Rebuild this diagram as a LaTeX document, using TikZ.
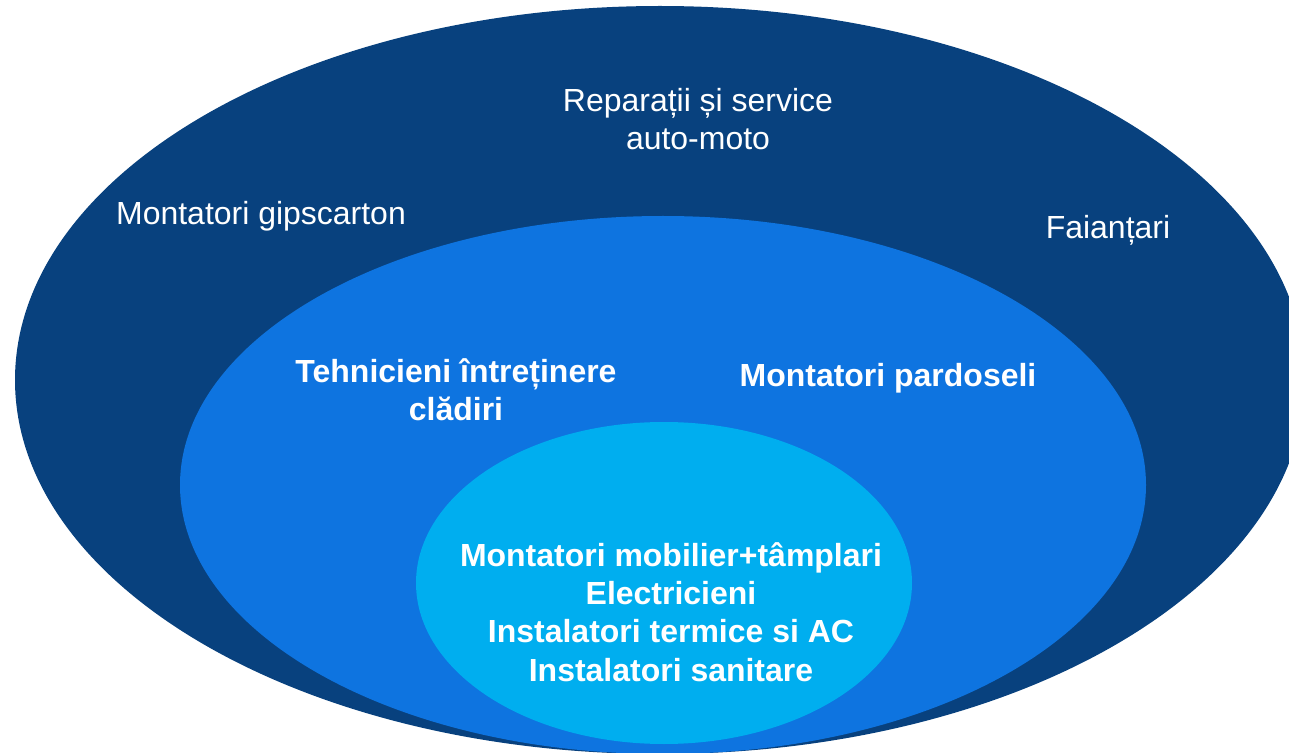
\documentclass[tikz,border=0pt]{standalone}
\usepackage{fontspec}
\setmainfont{Liberation Sans}
\definecolor{outercol}{RGB}{8,65,126}
\definecolor{midcol}{RGB}{14,116,224}
\definecolor{innercol}{RGB}{0,174,239}
\tikzset{
  ringlabel/.style={text=white,align=center,inner sep=0pt,
    font=\fontsize{18.2}{21.8}\selectfont},
  corelabel/.style={ringlabel,font=\fontsize{18.2}{21.8}\selectfont\bfseries},
}

\begin{document}
\begin{tikzpicture}[x=0.02cm,y=-0.02cm]
  \useasboundingbox (0,0) rectangle (1289,753);
  \clip (0,0) rectangle (1289,753);

  \coordinate (OC) at (660,380);
  \coordinate (MC) at (663,485);
  \coordinate (IC) at (664,583);

  % three nested rings
  \fill[outercol]
    (OC) ellipse [x radius=645, y radius=374];
  \fill[midcol]
    (MC) ellipse [x radius=483, y radius=269];
  \fill[innercol]
    (IC) ellipse [x radius=248, y radius=161];

  % outer ring
  \node[ringlabel] (auto) at (698,119) {Reparații și service\\auto-moto};
  \node[ringlabel] (gips) at (261,216) {Montatori gipscarton};
  \node[ringlabel] (faian) at (1108,230) {Faianțari};

  % middle ring
  \node[corelabel] (tehn) at (456,390) {Tehnicieni întreținere\\clădiri};
  \node[corelabel] (pard) at (888,378) {Montatori pardoseli};

  % core
  \node[corelabel] (core) at (671,612)
    {Montatori mobilier+tâmplari\\Electricieni\\Instalatori termice si AC\\Instalatori sanitare};
\end{tikzpicture}
\end{document}
